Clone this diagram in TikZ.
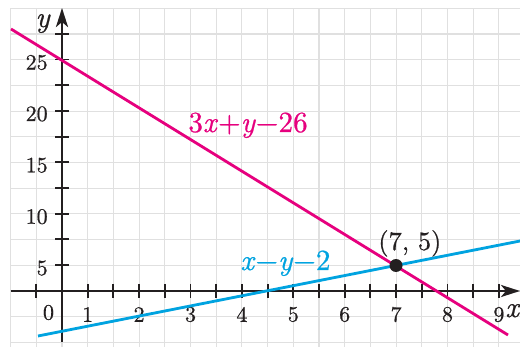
\documentclass[tikz,border=0pt]{standalone}
\usepackage{fontspec}
\setmainfont{lmroman10-regular.otf}[ItalicFont=lmroman10-italic.otf, FakeBold=0.7, ItalicFeatures={FakeBold=0.7}]
\usetikzlibrary{arrows.meta}
\definecolor{pinkline}{HTML}{E6007E}
\definecolor{blueline}{HTML}{00A3E0}
\definecolor{gridgray}{HTML}{E0E0E0}
\definecolor{axisdark}{HTML}{231F20}
\newcommand{\vi}[1]{\textit{#1}}
\begin{document}
\begin{tikzpicture}[x=0.02cm,y=-0.02cm,
  gridline/.style={gridgray,line width=0.6pt},
  axisline/.style={axisdark,line width=1.6pt,-{Stealth[length=0.38cm,width=0.24cm,inset=0.1cm]}},
  tickmark/.style={axisdark,line width=1.1pt},
  ticklabel/.style={text=axisdark,font=\fontsize{12.5}{14}\selectfont,inner sep=0pt},
  graphline/.style={line width=1.6pt},
  eqlabel/.style={font=\fontsize{16.6}{18}\selectfont,inner sep=0pt}]
\useasboundingbox (0,0) rectangle (520,347);
\fill[white] (0,0) rectangle (520,347);
% grid
\foreach \i in {-1,...,19} \draw[gridline] ({36.3+25.7*\i},8.3) -- ({36.3+25.7*\i},347);
\foreach \j in {0,...,13} \draw[gridline] (10.6,{8.3+25.7*\j}) -- (520,{8.3+25.7*\j});
% ticks
\foreach \k in {0,2,3,...,18} \draw[tickmark] ({36.3+25.7*\k},284) -- ({36.3+25.7*\k},298);
\foreach \k in {2,...,11} \draw[tickmark] (55,{316.5-25.7*\k}) -- (69,{316.5-25.7*\k});
% axes
\coordinate (xstart) at (10.6,291);
\coordinate (xend) at (520,291);
\coordinate (ystart) at (62,342);
\coordinate (yend) at (62,8);
\draw[axisline] (xstart) -- (xend);
\draw[axisline] (ystart) -- (yend);
% tick labels
\foreach \k in {1,...,9} \node[ticklabel] (xl\k) at ({36.3+51.4*\k},314.5) {\k};
\node[ticklabel] (xl0) at (48.5,312.5) {0};
\foreach \m in {1,...,5} {\pgfmathtruncatemacro{\v}{5*\m}
  \node[ticklabel,anchor=east] (yl\m) at (48,{316.5-51.4*\m+3}) {\v};}
% axis names
\node[eqlabel,anchor=base,text=axisdark] (ylab) at (43,27) {\vi{y}};
\node[eqlabel,anchor=base west,text=axisdark] (xlab) at (505,317) {\vi{x}};
% graph lines
\coordinate (p1) at (11,29);
\coordinate (p2) at (508,335);
\coordinate (b1) at (38,336);
\coordinate (b2) at (520,241);
\draw[graphline,pinkline] (p1) -- (p2);
\draw[graphline,blueline] (b1) -- (b2);
% intersection
\fill[axisdark] (396,265.5) circle[radius=6.5] coordinate (P);
\node[eqlabel,anchor=base west,text=axisdark,font=\fontsize{15}{18}\selectfont] (Plab) at (378,250) {(7, 5)};
% equation labels
\node[eqlabel,anchor=base west,text=pinkline] (eq1) at (188,132) {3\vi{x}+\vi{y}−26};
\node[eqlabel,anchor=base west,text=blueline] (eq2) at (240,270) {\vi{x}−\vi{y}−2};
\end{tikzpicture}
\end{document}
